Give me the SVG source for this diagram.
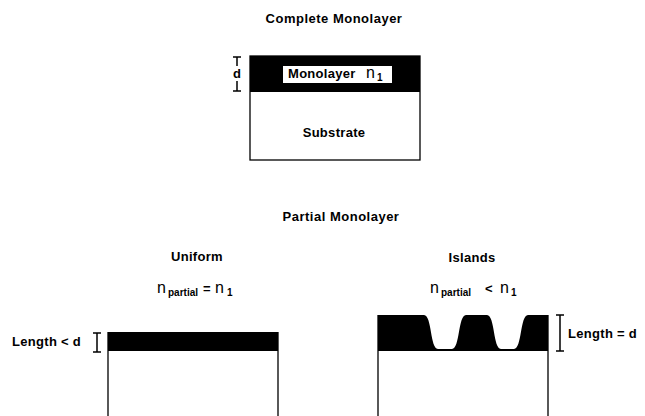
<svg xmlns="http://www.w3.org/2000/svg" width="645" height="416" viewBox="0 0 645 416">
<style>
text{font-family:"Liberation Sans",Arial,sans-serif;font-weight:bold;fill:#000}
.t{font-size:13px;letter-spacing:0.5px}
.l{font-size:13px;letter-spacing:0.3px}
.n{font-size:16px;font-weight:normal}
.s{font-size:10px}
.ln{stroke:#000;stroke-width:1.3;fill:none}
.br{stroke:#000;stroke-width:1.5;fill:none}
</style>
<rect width="645" height="416" fill="#fff"/>
<g id="title-complete"><text class="t" x="334" y="23" text-anchor="middle">Complete Monolayer</text></g>
<g id="complete-monolayer">
<rect x="250" y="56" width="170" height="104" class="ln" fill="#fff"/>
<rect x="250" y="56" width="170" height="36" fill="#000"/>
<rect x="283" y="66" width="109" height="17" fill="#fff"/>
<text class="l" x="288" y="78">Monolayer</text>
<text class="n" x="366" y="78">n</text>
<text class="s" x="377" y="81">1</text>
<text class="l" x="334" y="137" text-anchor="middle">Substrate</text>
</g>
<g id="d-bracket">
<path class="br" d="M237,57 V66 M237,81 V91 M233,57 H241 M233,91 H241"/>
<text class="l" x="237" y="78" text-anchor="middle">d</text>
</g>
<g id="title-partial"><text class="t" x="341" y="221" text-anchor="middle">Partial Monolayer</text></g>
<g id="uniform">
<text class="l" x="197" y="261" text-anchor="middle">Uniform</text>
<text class="n" x="157" y="293">n</text>
<text class="s" x="168" y="296">partial</text>
<text class="l" x="203" y="293">=</text>
<text class="n" x="215" y="293">n</text>
<text class="s" x="227" y="296">1</text>
<rect x="108" y="332" width="170" height="19" fill="#000"/>
<path class="ln" d="M108,332 V416 M278,332 V416"/>
<text class="l" x="12" y="346">Length &lt; d</text>
<path class="br" d="M97,333 V352 M93,333 H101 M93,352 H101"/>
</g>
<g id="islands">
<text class="l" x="472" y="262" text-anchor="middle">Islands</text>
<text class="n" x="430" y="293">n</text>
<text class="s" x="441" y="296">partial</text>
<text class="l" x="485" y="293">&lt;</text>
<text class="n" x="500" y="293">n</text>
<text class="s" x="511" y="296">1</text>
<path fill="#000" d="M378,351 L378,315 L424,315 C432,315 430,349 438,349 L452,349 C460,349 458,315 466,315 L487,315 C495,315 493,349 501,349 L514,349 C522,349 520,315 528,315 L548,315 L548,351 Z"/>
<path class="ln" d="M378,315 V416 M548,315 V416"/>
<path class="br" d="M560,315 V351 M556,315 H564 M556,351 H564"/>
<text class="l" x="568" y="338">Length = d</text>
</g>
<g id="connectors"></g>
</svg>
